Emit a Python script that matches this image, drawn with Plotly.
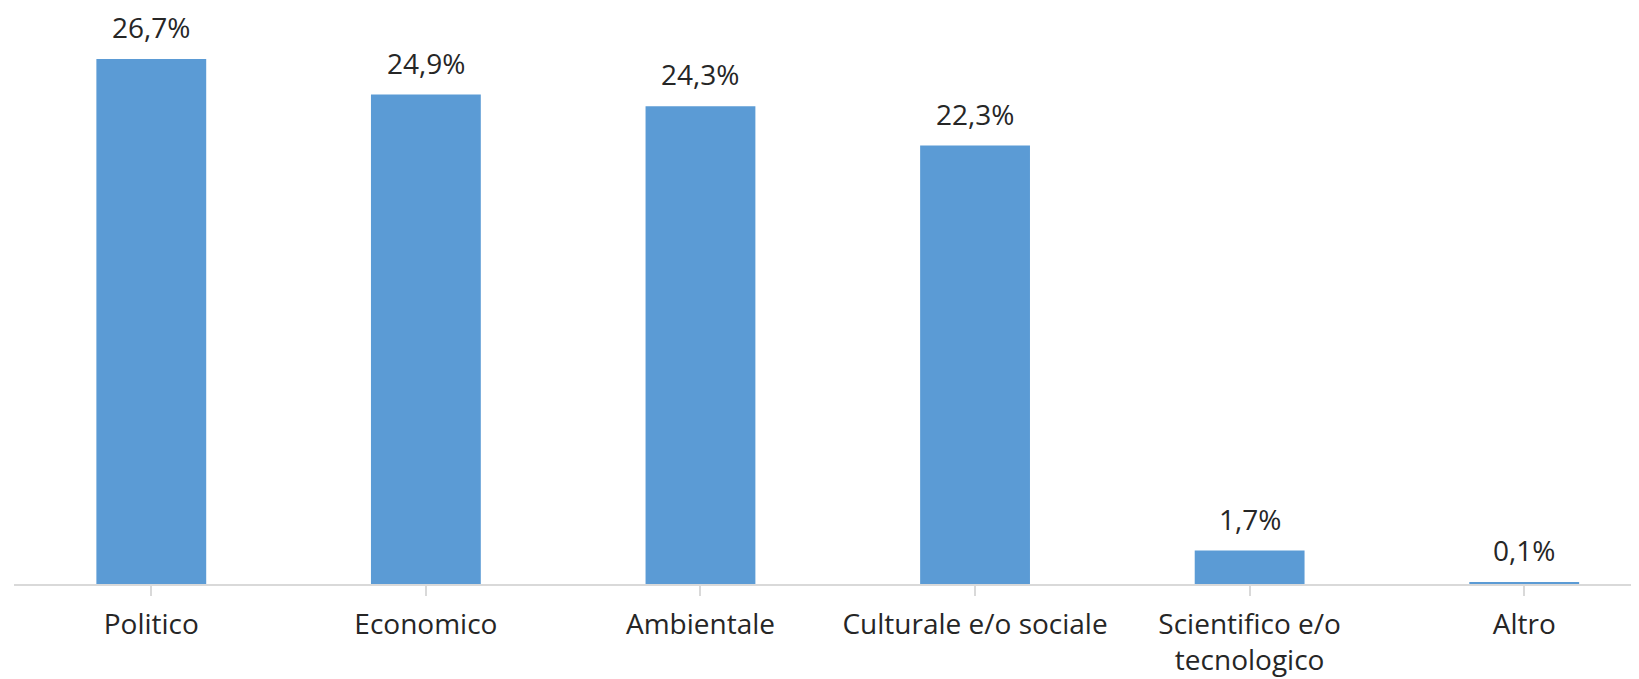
import plotly.graph_objects as go

categories = ["Politico", "Economico", "Ambientale", "Culturale e/o sociale",
              "Scientifico e/o<br>tecnologico", "Altro"]
values = [26.7, 24.9, 24.3, 22.3, 1.7, 0.1]

BAR = "#5b9bd5"
TXT = "#262626"
AX = "#d9d9d9"
FONT = "Open Sans"

fig = go.Figure()
fig.add_trace(go.Bar(
    x=list(range(len(categories))), y=values,
    marker=dict(color=BAR, line=dict(width=0)),
    width=0.4, hoverinfo="skip",
))

for i, v in enumerate(values):
    fig.add_annotation(
        x=i, y=v, text=f"{v:.1f}%".replace(".", ","),
        showarrow=False, yanchor="bottom", yshift=11,
        font=dict(family=FONT, size=28, color=TXT),
    )

fig.update_layout(
    width=1631, height=671,
    margin=dict(l=6, r=0, t=0, b=95),
    plot_bgcolor="white", paper_bgcolor="white",
    showlegend=False,
    font=dict(family=FONT, size=28, color=TXT),
    bargap=0.6,
)
fig.update_xaxes(
    tickmode="array", tickvals=list(range(len(categories))), ticktext=categories,
    range=[-0.5, 5.418],
    showline=True, linecolor=AX, linewidth=2,
    ticks="outside", tickson="boundaries", ticklen=10, tickcolor=AX, tickwidth=2,
    showgrid=False, zeroline=False,
    tickfont=dict(family=FONT, size=28, color=TXT),
    ticklabelstandoff=4,
)
fig.update_yaxes(visible=False, range=[0, 29.3], showgrid=False, zeroline=False)

fig.write_html("out.html")
